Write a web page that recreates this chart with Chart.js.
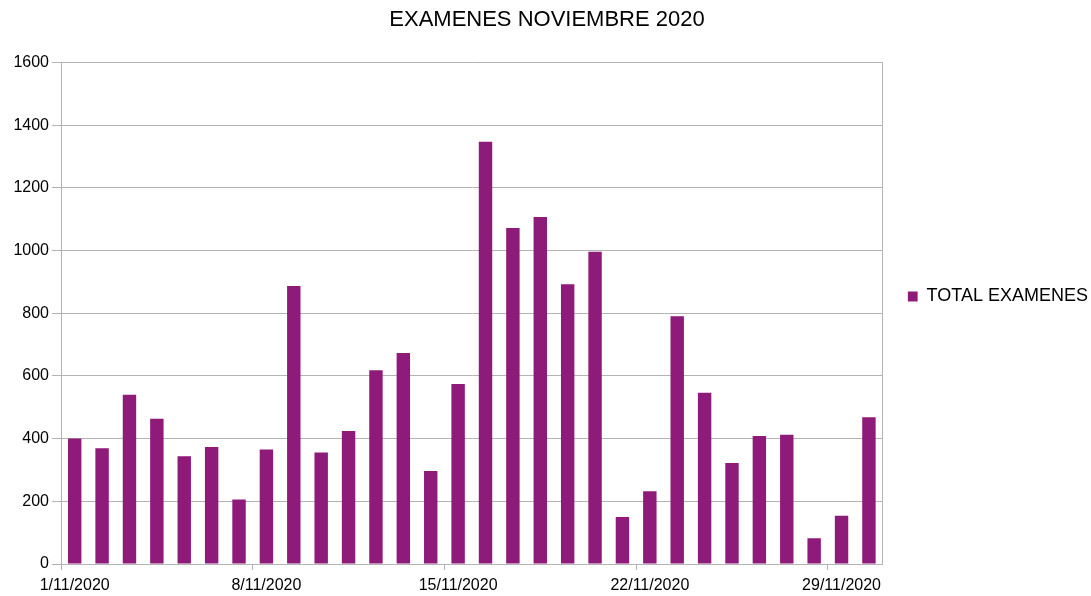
<!DOCTYPE html>
<html>
<head>
<meta charset="utf-8">
<script src="https://cdn.jsdelivr.net/npm/chart.js@4/dist/chart.umd.min.js"></script>
<style>
  html, body { margin: 0; padding: 0; background: #fff; }
  #wrap { width: 1091px; height: 596px; position: relative; }
</style>
</head>
<body>
<div id="wrap"><canvas id="chart"></canvas></div>
<script>
// one bar per day of November 2020
var days = [];
for (var d = 1; d <= 30; d++) days.push(d + "/11/2020");

var totalExamenes = [400, 369, 540, 463, 344, 373, 206, 365, 887, 356,
                     424, 618, 673, 297, 574, 1347, 1072, 1107, 892, 996,
                     150, 232, 790, 546, 322, 408, 412, 82, 154, 468];

var yTicks = [0, 200, 400, 600, 800, 1000, 1200, 1400, 1600];

var barColor = "#8e1a79";
var gridColor = "#b3b3b3";
var font = "'Liberation Sans', Arial, sans-serif";

var ctx = document.getElementById("chart").getContext("2d");
var chart = new Chart(ctx, {
    type: "bar",
    data: {
        labels: days,
        datasets: [{
            label: "TOTAL EXAMENES",
            data: totalExamenes,
            backgroundColor: barColor,
            borderWidth: 0,
            categoryPercentage: 1,
            barPercentage: 0.49
        }]
    },
    options: {
        responsive: true,
        maintainAspectRatio: false,
        animation: false,
        // negative sides keep the title centred on the page like the original
        layout: { padding: { left: -4, right: -7, top: 0, bottom: 3 } },
        plugins: {
            title: {
                display: true,
                text: "EXAMENES NOVIEMBRE 2020",
                color: "#000",
                font: { family: font, size: 22, weight: "normal" },
                padding: { top: 7, bottom: 29 }
            },
            legend: {
                position: "right",
                maxWidth: 240,
                labels: {
                    color: "#000",
                    font: { family: font, size: 18 },
                    boxWidth: 10,
                    boxHeight: 10,
                    padding: 0
                }
            },
            tooltip: { enabled: false }
        },
        scales: {
            x: {
                offset: true,
                grid: {
                    offset: true,
                    drawOnChartArea: false,
                    tickLength: 6,
                    color: function (c) { return c.index % 7 === 0 ? gridColor : "transparent"; }
                },
                border: { color: gridColor },
                ticks: {
                    autoSkip: false,
                    maxRotation: 0,
                    color: "#000",
                    padding: 8,
                    font: { family: font, size: 16, lineHeight: 1 },
                    callback: function (v, i) { return i % 7 === 0 ? days[i] : ""; }
                },
                afterFit: function (axis) { axis.height = 29; }
            },
            y: {
                min: 0,
                max: 1600,
                afterBuildTicks: function (axis) {
                    axis.ticks = yTicks.map(function (v) { return { value: v }; });
                },
                afterFit: function (axis) { axis.width = 65; },
                grid: { color: gridColor, tickLength: 9 },
                border: { color: gridColor },
                ticks: {
                    color: "#000",
                    padding: 3,
                    font: { family: font, size: 16 },
                    callback: function (v) { return String(v); }
                }
            },
            y2: {
                position: "right",
                min: 0,
                max: 1600,
                grid: { display: false },
                border: { color: gridColor },
                ticks: { display: false },
                afterFit: function (axis) { axis.width = 25; }
            }
        }
    }
});
</script>
</body>
</html>
